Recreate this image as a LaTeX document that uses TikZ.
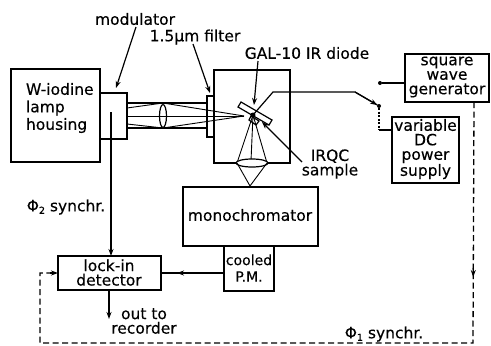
\documentclass[tikz,border=0pt]{standalone}
\usepackage{fontspec}
\setmainfont[FakeBold=0.3]{DejaVu Sans}
\usetikzlibrary{arrows.meta}
\tikzset{
  x=1pt,y=-1pt,
  every node/.style={inner sep=0pt,outer sep=0pt},
  box/.style={draw,line width=1.3pt,anchor=north west,minimum width=#1},
  lbl/.style={font=\fontsize{15.5}{14.5}\selectfont,align=center},
  wire/.style={line width=1.2pt},
  ray/.style={line width=0.9pt},
  arr/.style={wire,-{Stealth[length=7pt,width=5pt]}},
  dashwire/.style={line width=1.3pt,dash pattern=on 6pt off 3.5pt},
  dot/.style={circle,fill=black,minimum size=4pt}
}
\begin{document}
\begin{tikzpicture}
\useasboundingbox (0,0) rectangle (491,346);
% boxes
\node[box=89pt,minimum height=93pt] (lamp) at (11,69) {};
\node[box=27pt,minimum height=46pt] (mod) at (100,93) {};
\node[box=76pt,minimum height=93pt] (main) at (214,70) {};
\node[box=7pt,minimum height=41pt] (filter) at (207,96) {};
\node[box=135pt,minimum height=59pt] (mono) at (183,187) {};
\node[box=50pt,minimum height=45pt] (pm) at (224,246) {};
\node[box=103pt,minimum height=34pt] (lock) at (58,256) {};
\node[box=84pt,minimum height=48pt] (square) at (405,54) {};
\node[box=67pt,minimum height=66pt] (var) at (392,117) {};
% box texts
\node[lbl,align=left,anchor=north west,font=\fontsize{15.5}{17.5}\selectfont] (lamptxt) at (26,83) {W-iodine\\lamp\\housing};
\node[lbl] (monotxt) at (250,215) {monochromator};
\node[lbl,font=\fontsize{14}{16.5}\selectfont] (pmtxt) at (249,268) {cooled\\P.M.};
\node[lbl] (locktxt) at (109,272.5) {lock-in\\detector};
\node[lbl] (squaretxt) at (447,77) {square\\wave\\generator};
\node[lbl] (vartxt) at (425.5,149) {variable\\DC\\power\\supply};
% labels
\node[lbl] (modlab) at (135,19) {modulator};
\node[lbl] (filtlab) at (195,37) {1.5µm filter};
\node[lbl] (gallab) at (307,53) {GAL-10 IR diode};
\node[lbl] (irqclab) at (330,164) {IRQC\\sample};
\node[lbl] (phitwo) at (66,207) {Φ\raisebox{-2.5pt}{\fontsize{9.5}{10}\selectfont 2} synchr.};
\node[lbl] (phione) at (384,334) {Φ\raisebox{-2.5pt}{\fontsize{9.5}{10}\selectfont 1} synchr.};
\node[lbl] (outlab) at (144,321) {out to\\recorder};
% pointer arrows
\coordinate (modtip) at (116,88);
\coordinate (filttip) at (210,93);
\coordinate (galtip) at (254,105);
\coordinate (irqctip) at (262,122);
\draw[arr] (136,27) -- (modtip);
\draw[arr] (193,44) -- (filttip);
\draw[arr] (258,61) -- (galtip);
\draw[arr] (302,162) -- (irqctip);
% optics: beam to the sample
\coordinate (lt) at (163,103);
\coordinate (lb) at (163,128);
\coordinate (focus) at (244,116);
\draw[wire] (127,103) -- (207,103);
\draw[wire] (127,128) -- (207,128);
\draw[ray] (127,108) -- (lt) -- (focus);
\draw[ray] (127,124) -- (lb) -- (focus);
\draw[wire,fill=white] (163,116) ellipse (3.5 and 11.5);
\draw[ray] (127,116) -- (focus);
% diode and sample
\coordinate (samp) at (253,115);
\draw[wire,fill=white] (241,102) -- (272,120) -- (269,125) -- (238,107) -- cycle;
\draw[wire,fill=white] (251,116) -- (259,121) -- (256,125) -- (249,120) -- cycle;
\fill (samp) circle (2.5);
% collection optics
\coordinate (cl) at (237,163);
\coordinate (cr) at (267,163);
\coordinate (apex) at (250,186);
\draw[ray] (samp) -- (cl);
\draw[ray] (samp) -- (251,161);
\draw[ray] (samp) -- (cr);
\draw[wire,fill=white] (252,163) ellipse (16 and 4);
\draw[ray] (cl) -- (apex) -- (cr);
% drive wiring
\node[dot] (sw1) at (380,83) {};
\node[dot] (sw2) at (379,106) {};
\draw[wire] (sw1) -- (square.west |- sw1);
\draw[wire] (samp) -- (273,92) -- (355,92) -- (sw2);
\draw[arr] (355,92) -- (sw2);
\draw[line width=1.2pt,dash pattern=on 2pt off 1.5pt] (sw2) -- (379,130);
\draw[wire] (379,130) -- (var.west |- 0,130);
% synchronisation and signals
\coordinate (modin) at (111,112);
\draw[arr] (modin) -- (modin |- lock.north);
\draw[wire] (pm.west |- 0,273) -- (lock.east |- 0,273);
\draw[arr] (190,273) -- (177,273);
\coordinate (out) at (109,319);
\draw[arr] (109,290) -- (out);
\coordinate (dnc) at (473,343);
\coordinate (ltc) at (40,343);
\draw[dashwire] (474,102) -- (dnc) -- (ltc) -- (40,273) -- (50,273);
\draw[arr] (50,273) -- (58,273);
\draw[arr] (473.3,268) -- (473.2,277);
\end{tikzpicture}
\end{document}
